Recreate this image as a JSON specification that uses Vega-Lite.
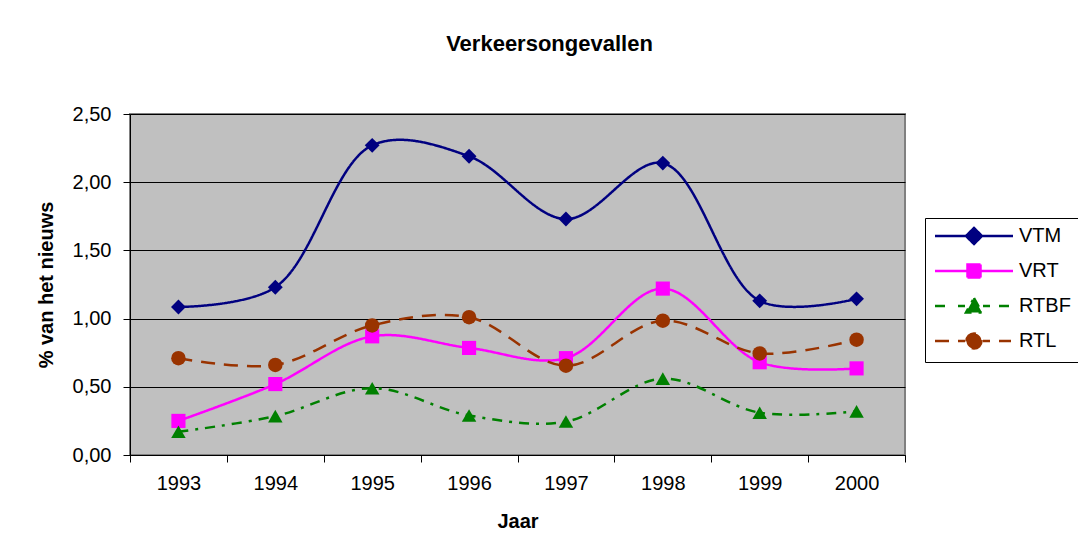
{
  "$schema": "https://vega.github.io/schema/vega-lite/v6.json",
  "autosize": "none",
  "width": 775,
  "height": 341,
  "padding": {"left": 130, "top": 114, "right": 173, "bottom": 101},
  "background": "white",
  "title": {"text": "Verkeersongevallen", "font": "Liberation Sans", "fontSize": 22, "fontWeight": "bold", "color": "black", "offset": 48, "dx": 32},
  "data": {"values": [
    {"jaar": "1993", "serie": "VTM", "v": 1.085}, {"jaar": "1994", "serie": "VTM", "v": 1.23}, {"jaar": "1995", "serie": "VTM", "v": 2.27}, {"jaar": "1996", "serie": "VTM", "v": 2.19},
    {"jaar": "1997", "serie": "VTM", "v": 1.73}, {"jaar": "1998", "serie": "VTM", "v": 2.14}, {"jaar": "1999", "serie": "VTM", "v": 1.13}, {"jaar": "2000", "serie": "VTM", "v": 1.145},
    {"jaar": "1993", "serie": "VRT", "v": 0.25}, {"jaar": "1994", "serie": "VRT", "v": 0.52}, {"jaar": "1995", "serie": "VRT", "v": 0.87}, {"jaar": "1996", "serie": "VRT", "v": 0.785},
    {"jaar": "1997", "serie": "VRT", "v": 0.71}, {"jaar": "1998", "serie": "VRT", "v": 1.22}, {"jaar": "1999", "serie": "VRT", "v": 0.68}, {"jaar": "2000", "serie": "VRT", "v": 0.635},
    {"jaar": "1993", "serie": "RTBF", "v": 0.17}, {"jaar": "1994", "serie": "RTBF", "v": 0.285}, {"jaar": "1995", "serie": "RTBF", "v": 0.49}, {"jaar": "1996", "serie": "RTBF", "v": 0.29},
    {"jaar": "1997", "serie": "RTBF", "v": 0.245}, {"jaar": "1998", "serie": "RTBF", "v": 0.56}, {"jaar": "1999", "serie": "RTBF", "v": 0.31}, {"jaar": "2000", "serie": "RTBF", "v": 0.32},
    {"jaar": "1993", "serie": "RTL", "v": 0.71}, {"jaar": "1994", "serie": "RTL", "v": 0.66}, {"jaar": "1995", "serie": "RTL", "v": 0.95}, {"jaar": "1996", "serie": "RTL", "v": 1.01},
    {"jaar": "1997", "serie": "RTL", "v": 0.655}, {"jaar": "1998", "serie": "RTL", "v": 0.985}, {"jaar": "1999", "serie": "RTL", "v": 0.745}, {"jaar": "2000", "serie": "RTL", "v": 0.845}
  ]},
  "encoding": {
    "x": {"field": "jaar", "type": "ordinal", "bandPosition": 0.5,
      "scale": {"type": "band", "paddingInner": 0, "paddingOuter": 0},
      "axis": {"title": "Jaar", "labelAngle": 0, "tickBand": "extent", "grid": false, "domainColor": "black", "tickColor": "black", "tickSize": 7, "labelPadding": 11, "titlePadding": 18}},
    "y": {"field": "v", "type": "quantitative",
      "scale": {"domain": [0, 2.5], "nice": false},
      "axis": {"title": "% van het nieuws", "values": [0, 0.5, 1, 1.5, 2, 2.5], "labelExpr": "replace(format(datum.value, '.2f'), '.', ',')", "grid": true, "gridColor": "black", "gridWidth": 1, "domainColor": "black", "tickColor": "black", "tickSize": 7, "labelPadding": 12, "titlePadding": 16}},
    "color": {"field": "serie", "type": "nominal",
      "scale": {"domain": ["VTM", "VRT", "RTBF", "RTL"], "range": ["#000080", "#FF00FF", "#008000", "#993300"]},
      "legend": {"orient": "none", "legendX": 795, "legendY": 104, "title": null,
        "strokeColor": "black", "fillColor": "white", "padding": 8, "rowPadding": 10,
        "labelFontSize": 20, "labelFont": "Liberation Sans", "labelColor": "black", "labelLimit": 200,
        "symbolSize": 4, "symbolOffset": 31, "labelOffset": 35, "symbolStrokeWidth": 2,
        "encode": {"symbols": {"update": {
          "shape": {"signal": "datum.value === 'VTM' ? 'M-39,0H39M0,-8L8,0L0,8L-8,0Z' : datum.value === 'VRT' ? 'M-39,0H39M-6.5,-6.5H6.5V6.5H-6.5Z' : datum.value === 'RTBF' ? 'M-39,0H-25M-16,0H-9M9,0H16M25,0H37M0,-8L8,6.5L-8,6.5Z' : 'M-39,0H-25M-16,0H-9M9,0H16M25,0H37M7.5,0A7.5,7.5 0 1,1 -7.5,0A7.5,7.5 0 1,1 7.5,0Z'"},
          "size": {"value": 4},
          "fill": {"scale": "color", "field": "value"},
          "stroke": {"scale": "color", "field": "value"},
          "strokeWidth": {"value": 2.5},
          "strokeDash": {"value": []},
          "opacity": {"value": 1}
        }}}}}
  },
  "layer": [
    {
      "mark": {"type": "line", "interpolate": "catmull-rom", "strokeWidth": 2.5},
      "encoding": {
        "strokeDash": {"field": "serie", "type": "nominal",
          "scale": {"domain": ["VTM", "VRT", "RTBF", "RTL"], "range": [[1, 0], [1, 0], [10, 7, 3, 7], [14, 9]]},
          "legend": null}
      }
    },
    {"transform": [{"filter": "datum.serie === 'VTM'"}], "mark": {"type": "point", "shape": "diamond", "filled": true, "opacity": 1, "size": 220}},
    {"transform": [{"filter": "datum.serie === 'VRT'"}], "mark": {"type": "point", "shape": "square", "filled": true, "opacity": 1, "size": 200}},
    {"transform": [{"filter": "datum.serie === 'RTBF'"}], "mark": {"type": "point", "shape": "triangle-up", "filled": true, "opacity": 1, "size": 210}},
    {"transform": [{"filter": "datum.serie === 'RTL'"}], "mark": {"type": "point", "shape": "circle", "filled": true, "opacity": 1, "size": 210}}
  ],
  "config": {
    "view": {"fill": "#C0C0C0", "stroke": "#808080", "strokeWidth": 2},
    "axis": {"labelFont": "Liberation Sans", "labelFontSize": 20, "labelColor": "black", "titleFont": "Liberation Sans", "titleFontSize": 20, "titleFontWeight": "bold", "titleColor": "black"}
  }
}
